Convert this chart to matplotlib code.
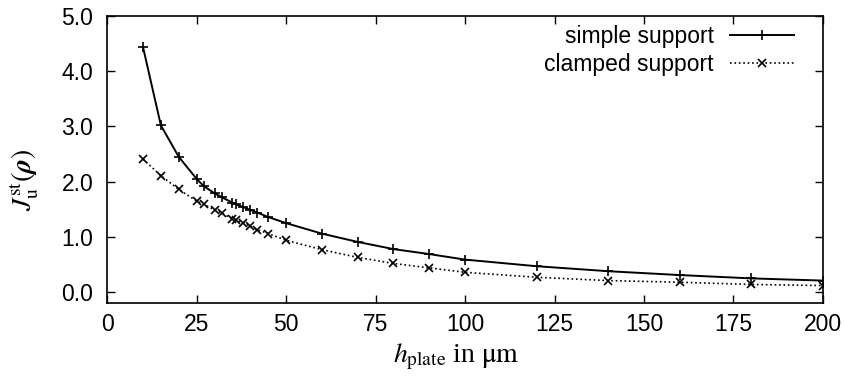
"""
Objective value over plate thickness for two support types.

"""
import matplotlib
matplotlib.use('Agg')
import matplotlib.pyplot as plt

plt.rcParams['font.family'] = ['Liberation Sans', 'DejaVu Sans']
plt.rcParams['mathtext.fontset'] = 'stix'

h_plate = [10, 15, 20, 25, 27, 30, 32, 35, 36, 38, 40, 42, 45, 50,
           60, 70, 80, 90, 100, 120, 140, 160, 180, 200]
simple = [4.44, 3.02, 2.45, 2.05, 1.92, 1.79, 1.72, 1.62, 1.59, 1.54,
          1.49, 1.44, 1.36, 1.25, 1.06, 0.91, 0.78, 0.69, 0.59, 0.47,
          0.38, 0.31, 0.25, 0.21]
clamped = [2.41, 2.11, 1.86, 1.65, 1.59, 1.49, 1.43, 1.33, 1.30, 1.26,
           1.19, 1.13, 1.06, 0.94, 0.77, 0.63, 0.52, 0.44, 0.36, 0.27,
           0.21, 0.18, 0.14, 0.12]
x_ticks = [0, 25, 50, 75, 100, 125, 150, 175, 200]
y_ticks = [0.0, 1.0, 2.0, 3.0, 4.0, 5.0]

fig = plt.figure(figsize=(8.44, 3.8), dpi=100)
ax = fig.add_axes([0.127, 0.202, 0.848, 0.756])

ax.plot(h_plate, simple, color='black', linestyle='-', linewidth=1.4,
        marker='+', markersize=7, markeredgewidth=1.2, label='simple support')
ax.plot(h_plate, clamped, color='black', linestyle=':', linewidth=1.2,
        marker='x', markersize=6, markeredgewidth=1.2, label='clamped support')

ax.set_xlim(0, 200)
ax.set_ylim(-0.2, 5.0)
ax.set_xticks(x_ticks)
ax.set_yticks(y_ticks)
ax.set_yticklabels(['{:.1f}'.format(v) for v in y_ticks])
ax.tick_params(direction='in', top=True, right=True, length=5.5, width=1,
               labelsize=16.5)
ax.tick_params(axis='x', pad=7)
ax.tick_params(axis='y', pad=10)
for s in ax.spines.values():
    s.set_linewidth(1.2)

ax.set_xlabel(r'$h_{\rm plate}$ in $\mathrm{\mu m}$', fontsize=20,
              family='Liberation Serif')
ax.xaxis.set_label_coords(0.488, -0.135)
ax.xaxis.label.set_va('top')
ax.set_ylabel(r'$J_{\rm u}^{\rm st}(\mathbfit{\rho})$', fontsize=20)
ax.yaxis.set_label_coords(-0.092, 0.43)

ax.legend(loc='upper right', bbox_to_anchor=(0.979, 1.015), frameon=False,
          markerfirst=False, fontsize=16.5, handlelength=2.8,
          borderaxespad=0.3, labelspacing=0.18, handletextpad=0.7,
          borderpad=0.3)

plt.savefig('out.png', dpi=100)
